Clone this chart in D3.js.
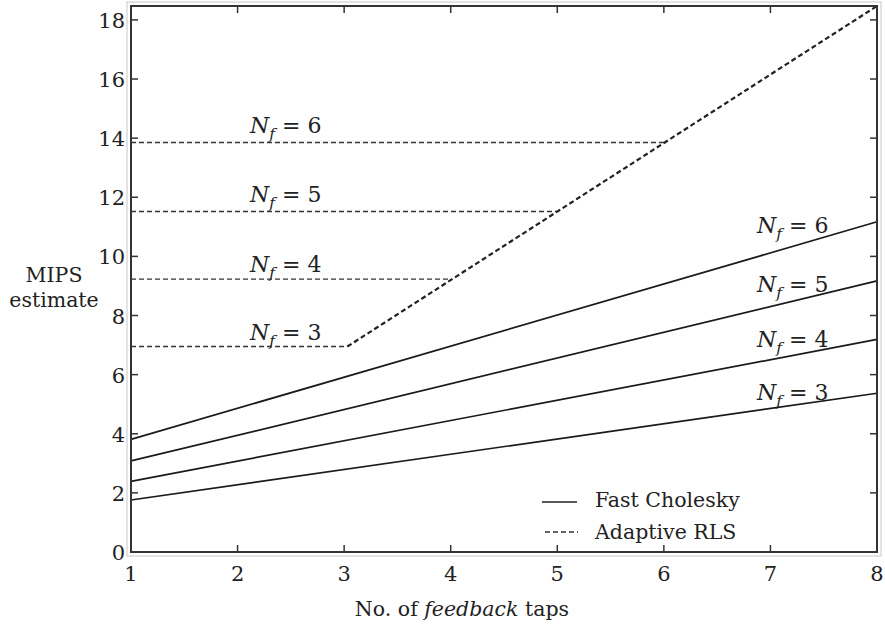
<!DOCTYPE html>
<html>
<head>
<meta charset="utf-8">
<script src="https://cdn.jsdelivr.net/npm/d3@7"></script>
<style>
  body { margin: 0; background: #fff; }
</style>
</head>
<body>
<div id="viz"></div>
<script>
const width = 885;
const height = 625;
const margin = {top: 6, right: 4, bottom: 73, left: 131};
const serif = "'DejaVu Serif', serif";

// Data
const xTicks = [1, 2, 3, 4, 5, 6, 7, 8];
const yTicks = [0, 2, 4, 6, 8, 10, 12, 14, 16, 18];
const nf = [3, 4, 5, 6];
// Fast Cholesky: MIPS at 1 and 8 feedback taps
const choleskyAt1 = [1.76, 2.39, 3.08, 3.81];
const choleskyAt8 = [5.37, 7.19, 9.17, 11.17];
// Adaptive RLS: flat level for each Nf, up to where it meets the common rising line
const rlsLevel = [6.95, 9.23, 11.52, 13.85];
const rlsEnd = [3.03, 4.0, 5.0, 6.0];
const rlsRiseX = [3.03, 8];
const rlsRiseY = [6.95, 18.47];

const x = d3.scaleLinear().domain([1, 8]).range([margin.left, width - margin.right - 4]);
const y = d3.scaleLinear().domain([0, 18.47]).range([height - margin.bottom, margin.top]);

const svg = d3.select('#viz')
  .append('svg')
    .attr('width', width)
    .attr('height', height)
    .attr('font-family', serif)
    .style('font-family', serif);

// light outer frame
svg.append('rect')
  .attr('x', x(1) - 4).attr('y', y(18.47) - 4)
  .attr('width', x(8) - x(1) + 8).attr('height', y(0) - y(18.47) + 8)
  .attr('fill', 'none').attr('stroke', '#c8c8c8').attr('stroke-width', 1);

const line = d3.line().x(d => x(d[0])).y(d => y(d[1]));

// Fast Cholesky (solid)
nf.forEach((n, i) => {
  svg.append('path')
    .attr('d', line([[1, choleskyAt1[i]], [8, choleskyAt8[i]]]))
    .attr('fill', 'none').attr('stroke', '#1a1a1a').attr('stroke-width', 1.7);
});

// Adaptive RLS (dashed)
nf.forEach((n, i) => {
  svg.append('path')
    .attr('d', line([[1, rlsLevel[i]], [rlsEnd[i], rlsLevel[i]]]))
    .attr('fill', 'none').attr('stroke', '#333').attr('stroke-width', 1.4)
    .attr('stroke-dasharray', '5,3');
});
svg.append('path')
  .attr('d', line(rlsRiseX.map((v, i) => [v, rlsRiseY[i]])))
  .attr('fill', 'none').attr('stroke', '#222').attr('stroke-width', 2.2)
  .attr('stroke-dasharray', '5,3');

// axes frame
svg.append('rect')
  .attr('x', x(1)).attr('y', y(18.47))
  .attr('width', x(8) - x(1)).attr('height', y(0) - y(18.47))
  .attr('fill', 'none').attr('stroke', '#333').attr('stroke-width', 2);

const tickLen = 7;
const axes = svg.append('g').attr('stroke', '#333').attr('stroke-width', 1.5);
xTicks.slice(1, -1).forEach(t => {
  axes.append('line').attr('x1', x(t)).attr('x2', x(t)).attr('y1', y(0)).attr('y2', y(0) - tickLen);
  axes.append('line').attr('x1', x(t)).attr('x2', x(t)).attr('y1', y(18.47)).attr('y2', y(18.47) + tickLen);
});
yTicks.slice(1).forEach(t => {
  axes.append('line').attr('x1', x(1)).attr('x2', x(1) + tickLen).attr('y1', y(t)).attr('y2', y(t));
  axes.append('line').attr('x1', x(8)).attr('x2', x(8) - tickLen).attr('y1', y(t)).attr('y2', y(t));
});

const txt = sel => sel.attr('fill', '#222').attr('font-family', serif);

svg.selectAll('.xlab').data(xTicks).join('text')
  .call(txt)
  .attr('x', d => x(d)).attr('y', y(0) + 29)
  .attr('text-anchor', 'middle').attr('font-size', 21)
  .text(d => d);

svg.selectAll('.ylab').data(yTicks).join('text')
  .call(txt)
  .attr('x', x(1) - 6).attr('y', d => y(d) + 8)
  .attr('text-anchor', 'end').attr('font-size', 21)
  .text(d => d);

// axis titles
svg.append('text').call(txt).attr('x', 54).attr('y', 282).attr('text-anchor', 'middle')
  .attr('font-size', 20.5).text('MIPS');
svg.append('text').call(txt).attr('x', 54).attr('y', 307).attr('text-anchor', 'middle')
  .attr('font-size', 20.5).text('estimate');

const xt = svg.append('text').call(txt).attr('x', 462).attr('y', 616).attr('text-anchor', 'middle')
  .attr('font-size', 20.5);
xt.append('tspan').text('No. of ');
xt.append('tspan').attr('font-style', 'italic').text('feedback');
xt.append('tspan').text(' taps');

// N_f = n labels
const nfLabel = (px, py, n) => {
  const t = svg.append('text').call(txt).attr('x', px).attr('y', py).attr('font-size', 22);
  t.append('tspan').attr('font-style', 'italic').text('N');
  t.append('tspan').attr('font-style', 'italic').attr('font-size', 15.5).attr('dy', 6).text('f');
  t.append('tspan').attr('dy', -6).text(' = ' + n);
};
const leftLabelY = [340, 272, 202, 133];
const rightLabelY = [400, 347, 292, 233];
nf.forEach((n, i) => {
  nfLabel(250, leftLabelY[i], n);
  nfLabel(757, rightLabelY[i], n);
});

// legend
svg.append('line').attr('x1', 542).attr('x2', 577).attr('y1', 502).attr('y2', 502)
  .attr('stroke', '#222').attr('stroke-width', 1.6);
svg.append('text').call(txt).attr('x', 595).attr('y', 507).attr('font-size', 20.5).text('Fast Cholesky');
svg.append('line').attr('x1', 545).attr('x2', 578).attr('y1', 532).attr('y2', 532)
  .attr('stroke', '#333').attr('stroke-width', 1.4).attr('stroke-dasharray', '5,3');
svg.append('text').call(txt).attr('x', 595).attr('y', 539).attr('font-size', 20.5).text('Adaptive RLS');
</script>
</body>
</html>
